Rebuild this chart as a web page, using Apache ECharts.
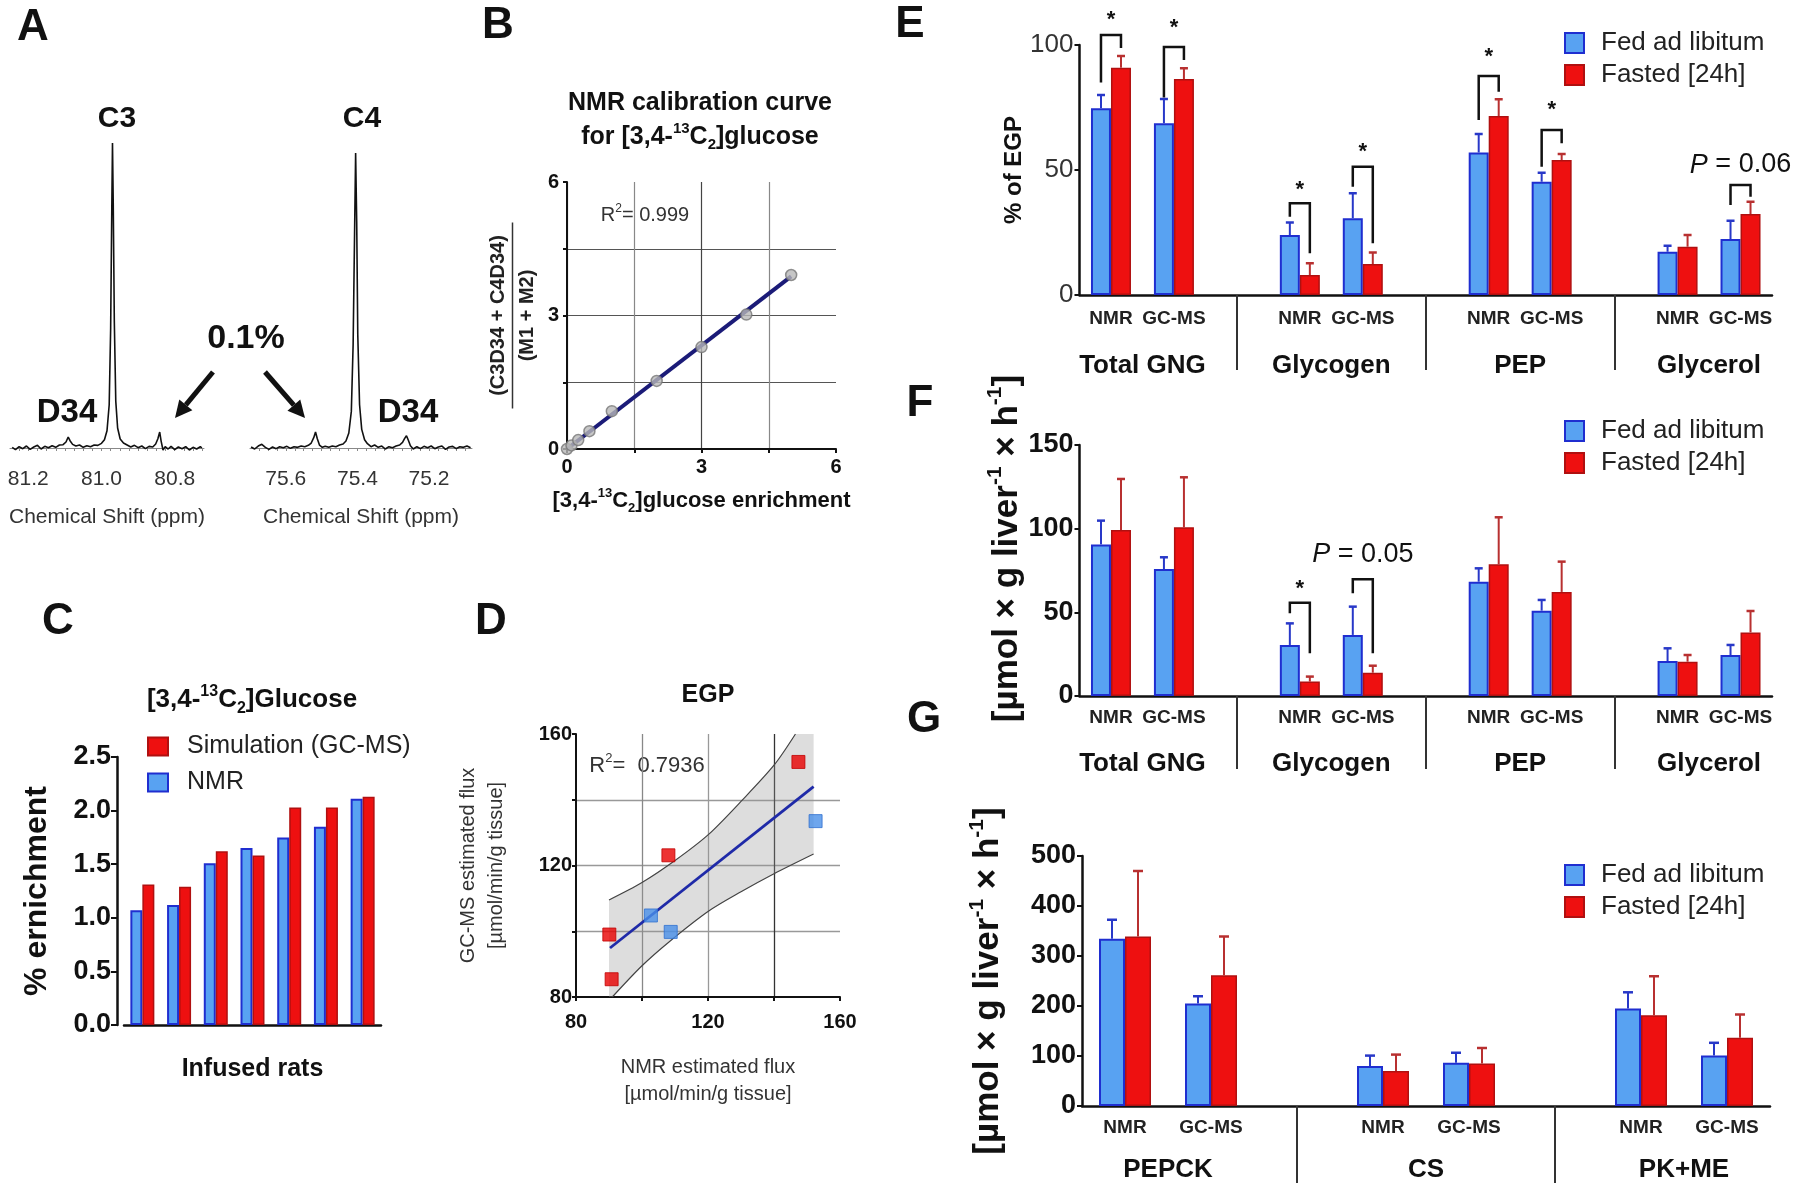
<!DOCTYPE html>
<html>
<head>
<meta charset="utf-8">
<title>NMR vs GC-MS glucose flux figure</title>
<script src="https://cdn.jsdelivr.net/npm/echarts@6/dist/echarts.min.js"></script>
<style>
  html, body { margin: 0; padding: 0; background: #fff; }
  #chart { width: 1800px; height: 1189px; }
</style>
</head>
<body>
<div id="chart"></div>
<script>
// ---- A: 13C NMR multiplets, [ppm, intensity]
const specC3 = [
  [81.244, 0.2], [81.235, -0.5], [81.225, 0.4], [81.215, -0.2], [81.205, 0.6], [81.195, -0.4],
  [81.185, 0.3], [81.175, 0.8], [81.165, -0.3], [81.155, 0.5], [81.145, 0.1], [81.135, 0.7],
  [81.125, 0.2], [81.115, 0.9], [81.105, 1.0], [81.097, 1.8], [81.091, 3.3], [81.086, 2.2],
  [81.079, 1.1], [81.07, 0.6], [81.06, 0.9], [81.05, 0.2], [81.04, 0.7], [81.03, 0.4],
  [81.02, 0.9], [81.01, 0.8], [81.0, 1.4], [80.992, 2.5], [80.985, 5.2], [80.979, 13],
  [80.975, 36], [80.972, 71], [80.970, 91.6], [80.968, 74], [80.965, 38], [80.961, 14],
  [80.956, 6], [80.949, 2.7], [80.94, 1.5], [80.93, 0.9], [80.92, 0.3], [80.91, 0.8],
  [80.90, 0.1], [80.89, 0.6], [80.88, -0.2], [80.87, 0.5], [80.86, 0.3], [80.852, 1.2],
  [80.846, 2.8], [80.841, 4.8], [80.837, 2.0], [80.832, -0.6], [80.826, 0.4], [80.818, -0.3],
  [80.81, 0.5], [80.80, -0.5], [80.79, 0.3], [80.78, -0.2], [80.77, 0.4], [80.76, -0.6],
  [80.75, 0.2], [80.74, -0.3], [80.73, 0.4], [80.726, 0]
];
const specC4 = [
  [75.697, 0.3], [75.687, -0.3], [75.677, 0.6], [75.667, 1.1], [75.657, 0.2], [75.647, -0.4],
  [75.637, 0.3], [75.627, -0.2], [75.617, 0.4], [75.607, 0.1], [75.597, 0.5], [75.587, -0.1],
  [75.577, 0.4], [75.567, 0.2], [75.557, 0.6], [75.547, 0.4], [75.537, 0.8], [75.529, 1.5],
  [75.522, 3.1], [75.517, 4.8], [75.512, 2.8], [75.506, 0.9], [75.498, 0.2], [75.49, 0.5],
  [75.48, 0.2], [75.47, 0.6], [75.46, 0.4], [75.45, 0.9], [75.44, 1.2], [75.432, 2.1],
  [75.424, 4.5], [75.417, 11], [75.412, 31], [75.408, 64], [75.405, 88.6], [75.402, 68],
  [75.399, 34], [75.394, 13], [75.388, 5.6], [75.38, 2.5], [75.372, 1.3], [75.362, 0.4],
  [75.352, 0.9], [75.342, 0.2], [75.332, 0.6], [75.322, -0.3], [75.312, 0.4], [75.302, 0.1],
  [75.292, 0.6], [75.282, 0.9], [75.274, 1.7], [75.268, 2.9], [75.263, 3.7], [75.258, 2.4],
  [75.252, 0.7], [75.244, -0.3], [75.234, 0.4], [75.224, -0.2], [75.214, 0.5], [75.204, 0.1],
  [75.194, 0.6], [75.184, -0.2], [75.174, 0.3], [75.164, 0.6], [75.154, -0.4], [75.144, 0.3],
  [75.134, 0.5], [75.124, -0.2], [75.114, 0.4], [75.104, 0.2], [75.094, 0.6], [75.084, 0.1]
];
const ppmLabelsC3 = [81.2, 81.0, 80.8];
const ppmLabelsC4 = [75.6, 75.4, 75.2];

// ---- B: calibration curve
const calibEnrich = [0, 0.1, 0.25, 0.5, 1, 2, 3, 4, 5];
const calibRatio = [0, 0.08, 0.2, 0.4, 0.85, 1.53, 2.29, 3.02, 3.91];
const calibFit = [[0, 0], [5, 3.88]];

// ---- C: enrichment per infused rat
const enrichNMR = [1.07, 1.12, 1.51, 1.65, 1.75, 1.85, 2.11];
const enrichSim = [1.31, 1.29, 1.62, 1.58, 2.03, 2.03, 2.13];

// ---- D: EGP, NMR vs GC-MS
const egpFed = [[102.7, 104.8], [108.7, 99.8], [152.6, 133.5]];
const egpFasted = [[90.1, 99.0], [90.8, 85.4], [108, 123.1], [147.4, 151.5]];
const egpFit = [[90.3, 94.9], [152, 144]];
const bandUpper = [[90, 109.5], [100, 114.8], [110, 121.5], [120, 129.3], [130, 139.5], [140, 150.5], [146.5, 160]];
const bandLower = [[91, 80], [100, 89.5], [108, 96.6], [120, 106], [130, 112], [140, 117.5], [152, 123.5]];

// ---- E/F/G
const fluxGroups = ['Total GNG', 'Glycogen', 'PEP', 'Glycerol'];
const enzymeGroups = ['PEPCK', 'CS', 'PK+ME'];
const methods = ['NMR', 'GC-MS'];

const pctFed = [74.7, 68.7, 24, 30.7, 57, 45.3, 17.3, 22.4];
const pctFedErr = [5.3, 9.7, 5, 10, 7.4, 3.6, 2.4, 7.3];
const pctFast = [90.9, 86.4, 8, 12.4, 71.6, 54, 19.3, 32.4];
const pctFastErr = [4.7, 4.3, 4.7, 4.6, 6.7, 2.4, 4.7, 4.9];

const fluxFed = [90.6, 75.9, 30.5, 36.5, 68.3, 51, 20.9, 24.5];
const fluxFedErr = [14.2, 7, 12.9, 16.9, 8, 6.4, 7.6, 6];
const fluxFast = [99.2, 100.8, 8.6, 13.9, 78.7, 62.2, 20.5, 38];
const fluxFastErr = [30.5, 29.9, 3, 4.2, 28.1, 18.1, 4, 12.8];

const enzFed = [334.5, 204.8, 79.8, 86.5, 195, 101];
const enzFedErr = [38, 14.7, 21, 20, 32.4, 25.4];
const enzFast = [339, 261.3, 69.8, 85, 181.5, 136.3];
const enzFastErr = [131, 77.7, 33, 31, 78, 46.7];

// significance brackets: k = measure index, legs/top in axis units
const bracketsE = [
  { k: 0, left: 85, top: 104, right: 98.8, text: '*', textY: 110 },
  { k: 1, left: 79, top: 99.2, right: 94, text: '*', textY: 107 },
  { k: 2, left: 31.3, top: 36.7, right: 16.7, text: '*', textY: 42 },
  { k: 3, left: 43.3, top: 51.3, right: 20.7, text: '*', textY: 57.3 },
  { k: 4, left: 70, top: 87.6, right: 81.3, text: '*', textY: 95.3 },
  { k: 5, left: 51.3, top: 66, right: 60.7, text: '*', textY: 74 },
  { k: 7, left: 36, top: 44, right: 39.3, text: 'P = 0.06', textY: 52 }
];
const bracketsF = [
  { k: 2, left: 49.4, top: 55.8, right: 25.5, text: '*', textY: 64 },
  { k: 3, left: 61.4, top: 69.7, right: 25.5, text: 'P = 0.05', textY: 84.3 }
];

const FONT = "'Liberation Sans', Arial, sans-serif";
const BLUE = '#58a2f2', BLUE_EDGE = '#1f2ed0', BLUE_ERR = '#2838c8';
const RED = '#ee1010', RED_EDGE = '#b01010', RED_ERR = '#b83030';

const grids = [], xAxes = [], yAxes = [], series = [];
const addGrid = (g) => grids.push(Object.assign({ outerBoundsMode: 'none', containLabel: false }, g)) - 1;
const addX = (a) => xAxes.push(a) - 1;
const addY = (a) => yAxes.push(a) - 1;

const supRich = (size, weight, color) => ({
  b: { fontSize: size, fontWeight: weight, fontFamily: FONT, color, lineHeight: size * 1.25 },
  sup: { fontSize: Math.round(size * 0.6), fontWeight: weight, fontFamily: FONT, color, lineHeight: Math.round(size * 0.6), verticalAlign: 'top' },
  sub: { fontSize: Math.round(size * 0.6), fontWeight: weight, fontFamily: FONT, color, lineHeight: Math.round(size * 0.6), verticalAlign: 'bottom' }
});

// ---------- A
function spectrum(data, left, width, min, max, labels) {
  const gi = addGrid({ left, top: 115, width, height: 343 });
  const minor = [];
  for (let v = Math.ceil(min * 40) / 40; v <= max; v += 0.025) minor.push(+v.toFixed(3));
  const xi = addX({
    type: 'value', gridIndex: gi, min, max, inverse: true, position: 'bottom',
    axisLine: { lineStyle: { color: '#888', width: 1 } },
    axisTick: { customValues: minor, length: 3, lineStyle: { color: '#888' } },
    axisLabel: { customValues: labels, formatter: (v) => v.toFixed(1), fontSize: 21, color: '#333', fontFamily: FONT, margin: 11 },
    splitLine: { show: false },
    name: 'Chemical Shift (ppm)', nameLocation: 'middle', nameGap: 49,
    nameTextStyle: { fontSize: 21, color: '#333', fontFamily: FONT }
  });
  const yi = addY({ type: 'value', gridIndex: gi, min: -3, max: 100, show: false });
  series.push({ type: 'line', xAxisIndex: xi, yAxisIndex: yi, data, symbol: 'none',
    lineStyle: { color: '#111', width: 1.6 }, silent: true });
}
spectrum(specC3, 10, 194, 80.72, 81.25, ppmLabelsC3);
spectrum(specC4, 250, 222, 75.08, 75.70, ppmLabelsC4);

// ---------- B
{
  const gi = addGrid({ left: 567, top: 182, width: 269, height: 267 });
  const tick = (v) => (v % 3 === 0 ? String(v) : '');
  const xi = addX({
    type: 'value', gridIndex: gi, min: 0, max: 6, interval: 1.5, position: 'bottom',
    axisLine: { lineStyle: { color: '#111', width: 2 } },
    axisTick: { length: 4, lineStyle: { color: '#111', width: 2 } },
    axisLabel: { formatter: tick, fontSize: 20, fontWeight: 'bold', color: '#111', fontFamily: FONT, margin: 8 },
    splitLine: { show: true, showMaxLine: false, lineStyle: { color: ['#666', '#888', '#444', '#888'], width: 1.2 } },
    name: '{b|[3,4-}{sup|13}{b|C}{sub|2}{b|]glucose enrichment}', nameLocation: 'middle', nameGap: 38,
    nameTextStyle: { rich: supRich(22, 'bold', '#111') }
  });
  const yi = addY({
    type: 'value', gridIndex: gi, min: 0, max: 6, interval: 1.5,
    axisLine: { lineStyle: { color: '#111', width: 2 } },
    axisTick: { length: 4, lineStyle: { color: '#111', width: 2 } },
    axisLabel: { formatter: tick, fontSize: 20, fontWeight: 'bold', color: '#111', fontFamily: FONT, margin: 8 },
    splitLine: { show: true, showMaxLine: false, lineStyle: { color: '#555', width: 1.2 } },
    name: '{n|(C3D34 + C4D34)}\n{bar| }\n{n|(M1 + M2)}', nameLocation: 'middle', nameRotate: 90, nameGap: 28,
    nameTextStyle: {
      align: 'center',
      rich: {
        n: { fontSize: 20, fontWeight: 'bold', fontFamily: FONT, color: '#222', lineHeight: 24, align: 'center' },
        bar: { width: 186, height: 1.5, lineHeight: 5, backgroundColor: '#333', fontSize: 2, align: 'center' }
      }
    }
  });
  series.push({ type: 'line', xAxisIndex: xi, yAxisIndex: yi, data: calibFit, symbol: 'none',
    lineStyle: { color: '#1b1b78', width: 4 }, silent: true, z: 3 });
  series.push({ type: 'scatter', xAxisIndex: xi, yAxisIndex: yi,
    data: calibEnrich.map((x, i) => [x, calibRatio[i]]), symbolSize: 11,
    itemStyle: { color: '#b8b8b8', borderColor: '#777', borderWidth: 1.5 }, z: 4 });
}

// ---------- C
{
  const gi = addGrid({ left: 124, top: 757, width: 257, height: 268 });
  const xi = addX({
    type: 'category', gridIndex: gi, data: enrichNMR.map((_, i) => 'Rat ' + (i + 1)), position: 'bottom',
    axisLine: { lineStyle: { color: '#111', width: 2.5 } },
    axisTick: { alignWithLabel: true, length: 7, lineStyle: { color: '#111', width: 2 } },
    axisLabel: { show: false },
    name: 'Infused rats', nameLocation: 'middle', nameGap: 32,
    nameTextStyle: { fontSize: 25, fontWeight: 'bold', color: '#111', fontFamily: FONT }
  });
  const yi = addY({
    type: 'value', gridIndex: gi, min: 0, max: 2.5, interval: 0.5, offset: 7,
    axisLine: { show: true, lineStyle: { color: '#111', width: 2.5 } },
    axisTick: { show: true, length: 6, lineStyle: { color: '#111', width: 2 } },
    axisLabel: { formatter: (v) => v.toFixed(1), fontSize: 27, fontWeight: 'bold', color: '#111', fontFamily: FONT, margin: 6 },
    splitLine: { show: false },
    name: '% ernichment', nameLocation: 'middle', nameRotate: 90, nameGap: 64,
    nameTextStyle: { fontSize: 32, fontWeight: 'bold', color: '#111', fontFamily: FONT }
  });
  series.push({ type: 'bar', name: 'NMR', xAxisIndex: xi, yAxisIndex: yi, data: enrichNMR, barWidth: 12, barGap: '0%',
    itemStyle: { color: BLUE, borderColor: BLUE_EDGE, borderWidth: 2 } });
  series.push({ type: 'bar', name: 'Simulation (GC-MS)', xAxisIndex: xi, yAxisIndex: yi, data: enrichSim, barWidth: 12,
    itemStyle: { color: RED, borderColor: RED_EDGE, borderWidth: 1.5 } });
}

// ---------- D
{
  const gi = addGrid({ left: 576, top: 734, width: 264, height: 263 });
  const common = {
    type: 'value', gridIndex: gi, min: 80, max: 160, interval: 20,
    axisLine: { lineStyle: { color: '#111', width: 2 } },
    axisTick: { length: 4, lineStyle: { color: '#111', width: 2 } },
    splitLine: { show: true, showMaxLine: false, showMinLine: false }
  };
  const lab = (v) => (v % 40 === 0 ? String(v) : '');
  const xi = addX({
    ...common, position: 'bottom',
    axisLabel: { formatter: lab, fontSize: 20, fontWeight: 'bold', color: '#111', fontFamily: FONT, margin: 15 },
    splitLine: { ...common.splitLine, lineStyle: { color: ['#888', '#999', '#333', '#999'], width: 1.3 } },
    name: 'NMR estimated flux\n[µmol/min/g tissue]', nameLocation: 'middle', nameGap: 57,
    nameTextStyle: { fontSize: 20, color: '#333', fontFamily: FONT, lineHeight: 27 }
  });
  const yi = addY({
    ...common,
    axisLabel: { formatter: lab, fontSize: 20, fontWeight: 'bold', color: '#111', fontFamily: FONT, margin: 4 },
    splitLine: { ...common.splitLine, lineStyle: { color: '#999', width: 1.3 } },
    name: 'GC-MS estimated flux\n[µmol/min/g tissue]', nameLocation: 'middle', nameRotate: 90, nameGap: 66,
    nameTextStyle: { fontSize: 20, color: '#333', fontFamily: FONT, lineHeight: 28 }
  });
  series.push({
    type: 'custom', xAxisIndex: xi, yAxisIndex: yi, data: [[120, 120]], silent: true, z: 1,
    renderItem: (params, api) => {
      const top = bandUpper.map((p) => api.coord(p));
      const rightTop = api.coord([bandLower[bandLower.length - 1][0], 160]);
      const bottom = bandLower.slice().reverse().map((p) => api.coord(p));
      const leftBottom = api.coord([bandUpper[0][0], 80]);
      return { type: 'polygon', shape: { points: [...top, rightTop, ...bottom, leftBottom] },
        style: { fill: 'rgba(150,150,150,0.32)' } };
    }
  });
  [bandUpper, bandLower].forEach((d) => series.push({ type: 'line', xAxisIndex: xi, yAxisIndex: yi, data: d,
    symbol: 'none', smooth: 0.3, lineStyle: { color: '#444', width: 1.2 }, silent: true, z: 2 }));
  series.push({ type: 'line', xAxisIndex: xi, yAxisIndex: yi, data: egpFit, symbol: 'none',
    lineStyle: { color: '#1f2aa8', width: 2.8 }, silent: true, z: 3 });
  series.push({ type: 'scatter', xAxisIndex: xi, yAxisIndex: yi, data: egpFasted, symbol: 'rect', symbolSize: 13,
    itemStyle: { color: '#e80000', borderColor: '#c00000', borderWidth: 1 }, z: 4 });
  series.push({ type: 'scatter', xAxisIndex: xi, yAxisIndex: yi, data: egpFed, symbol: 'rect', symbolSize: 13,
    itemStyle: { color: '#4a90e8', borderColor: '#2f6fd0', borderWidth: 1 }, z: 4 });
}

// ---------- E / F / G  (grouped bars with a blank slot between groups)
const slotOf = (k) => Math.floor(k / 2) * 3 + (k % 2);
const slotLabels = (groups) => {
  const out = [];
  groups.forEach((g, i) => { out.push(...methods); if (i < groups.length - 1) out.push(''); });
  return out;
};
const groupAxisLabels = (groups) => {
  const arr = new Array(2 * (groups.length * 3 - 1) + 1).fill('');
  groups.forEach((g, i) => { arr[6 * i + 2] = g; });
  return arr;
};
const toSlots = (vals) => {
  const out = [];
  vals.forEach((v, k) => { if (k > 0 && k % 2 === 0) out.push('-'); out.push(v); });
  return out;
};

function errSeries(xi, yi, vals, errs, side, bw, color, cap) {
  return {
    type: 'custom', xAxisIndex: xi, yAxisIndex: yi, silent: true, z: 5,
    data: vals.map((v, k) => [slotOf(k), v, v + errs[k]]),
    renderItem: (params, api) => {
      const base = api.coord([api.value(0), api.value(1)]);
      const top = api.coord([api.value(0), api.value(2)]);
      const x = base[0] + side * bw / 2;
      return { type: 'group', children: [
        { type: 'line', shape: { x1: x, y1: base[1], x2: x, y2: top[1] }, style: { stroke: color, lineWidth: 2 } },
        { type: 'line', shape: { x1: x - cap, y1: top[1], x2: x + cap, y2: top[1] }, style: { stroke: color, lineWidth: 2.5 } }
      ] };
    }
  };
}

function bracketSeries(xi, yi, list, bw) {
  return {
    type: 'custom', xAxisIndex: xi, yAxisIndex: yi, silent: true, z: 6,
    data: list.map((b) => [slotOf(b.k), b.left, b.top, b.right, b.textY]),
    renderItem: (params, api) => {
      const b = list[params.dataIndex];
      const s = api.value(0);
      const pl = api.coord([s, api.value(1)]);
      const pt = api.coord([s, api.value(2)]);
      const pr = api.coord([s, api.value(3)]);
      const px = api.coord([s, api.value(4)]);
      const xl = pl[0] - bw / 2, xr = pl[0] + bw / 2;
      const isStar = b.text === '*';
      return { type: 'group', children: [
        { type: 'polyline', shape: { points: [[xl, pl[1]], [xl, pt[1]], [xr, pt[1]], [xr, pr[1]]] },
          style: { stroke: '#111', lineWidth: 2.5, fill: null } },
        { type: 'text', x: px[0], y: px[1], style: isStar
          ? { text: '*', fontSize: 22, fontWeight: 'bold', fontFamily: FONT, fill: '#111', align: 'center', verticalAlign: 'middle' }
          : { text: '{i|P}{t|' + b.text.slice(1) + '}', align: 'center', verticalAlign: 'middle',
              rich: { i: { fontSize: 27, fontStyle: 'italic', fontFamily: FONT, fill: '#111', color: '#111' },
                      t: { fontSize: 27, fontFamily: FONT, fill: '#111', color: '#111' } } } }
      ] };
    }
  };
}

function fluxPanel(o) {
  const gi = addGrid(o.grid);
  const xi = addX({
    type: 'category', gridIndex: gi, data: slotLabels(o.groups), position: 'bottom',
    axisLine: { lineStyle: { color: '#111', width: 2.5 } },
    axisTick: { alignWithLabel: true, length: 6, interval: (i) => i % 3 !== 2, lineStyle: { color: '#111', width: 2 } },
    axisLabel: { interval: 0, margin: o.catMargin, fontSize: 19, fontWeight: 'bold', color: '#222', fontFamily: FONT }
  });
  addX({
    type: 'category', gridIndex: gi, data: groupAxisLabels(o.groups), boundaryGap: false, position: 'bottom', offset: 0,
    axisLine: { show: false },
    axisTick: { show: true, interval: (i) => i % 6 === 5, length: o.sepLen, lineStyle: { color: '#333', width: 2 } },
    axisLabel: { interval: 0, margin: o.groupMargin, fontSize: 26, fontWeight: 'bold', color: '#111', fontFamily: FONT }
  });
  const yi = addY({
    type: 'value', gridIndex: gi, min: 0, max: o.max, interval: o.step,
    axisLine: { show: true, lineStyle: { color: '#111', width: 2.5 } },
    axisTick: { show: true, length: 5, lineStyle: { color: '#111', width: 2 } },
    axisLabel: { fontSize: o.tickSize, fontWeight: o.tickWeight, color: o.tickColor, fontFamily: FONT, margin: 6 },
    splitLine: { show: false },
    name: o.yName, nameLocation: 'middle', nameRotate: 90, nameGap: o.nameGap,
    nameTextStyle: o.nameStyle
  });
  series.push({ type: 'bar', name: 'Fed ad libitum', xAxisIndex: xi, yAxisIndex: yi, data: toSlots(o.fed),
    barWidth: o.bw, barGap: '0%', itemStyle: { color: BLUE, borderColor: BLUE_EDGE, borderWidth: 2 } });
  series.push({ type: 'bar', name: 'Fasted [24h]', xAxisIndex: xi, yAxisIndex: yi, data: toSlots(o.fast),
    barWidth: o.bw, itemStyle: { color: RED, borderColor: RED_EDGE, borderWidth: 1.5 } });
  series.push(errSeries(xi, yi, o.fed, o.fedErr, -1, o.bw, BLUE_ERR, o.cap));
  series.push(errSeries(xi, yi, o.fast, o.fastErr, 1, o.bw, RED_ERR, o.cap));
  if (o.brackets) series.push(bracketSeries(xi, yi, o.brackets, o.bw));
}

const unitName = '{b|[µmol × g liver}{sup|-1}{b| × h}{sup|-1}{b|]}';

fluxPanel({
  grid: { left: 1079.5, top: 45, width: 692.5, height: 250 }, groups: fluxGroups,
  fed: pctFed, fedErr: pctFedErr, fast: pctFast, fastErr: pctFastErr, brackets: bracketsE,
  max: 100, step: 50, bw: 20, cap: 4, catMargin: 14, groupMargin: 58, sepLen: 75,
  tickSize: 26, tickWeight: 'normal', tickColor: '#333',
  yName: '% of EGP', nameGap: 48, nameStyle: { fontSize: 24, fontWeight: 'bold', color: '#111', fontFamily: FONT }
});
fluxPanel({
  grid: { left: 1079.5, top: 445, width: 692.5, height: 251 }, groups: fluxGroups,
  fed: fluxFed, fedErr: fluxFedErr, fast: fluxFast, fastErr: fluxFastErr, brackets: bracketsF,
  max: 150, step: 50, bw: 20, cap: 4, catMargin: 12, groupMargin: 55, sepLen: 73,
  tickSize: 27, tickWeight: 'bold', tickColor: '#111',
  yName: unitName, nameGap: 49, nameStyle: { rich: supRich(35, 'bold', '#111'), padding: [0, 0, 0, 44] }
});
fluxPanel({
  grid: { left: 1082, top: 856, width: 688, height: 250 }, groups: enzymeGroups,
  fed: enzFed, fedErr: enzFedErr, fast: enzFast, fastErr: enzFastErr,
  max: 500, step: 100, bw: 26, cap: 5, catMargin: 12, groupMargin: 51, sepLen: 77,
  tickSize: 27, tickWeight: 'bold', tickColor: '#111',
  yName: unitName, nameGap: 72, nameStyle: { rich: supRich(35, 'bold', '#111') }
});

// ---------- legends
const fluxLegend = (top) => ({
  data: ['Fed ad libitum', 'Fasted [24h]'], orient: 'vertical', left: 1559, top,
  itemWidth: 19, itemHeight: 20, itemGap: 6, icon: 'rect', selectedMode: false,
  textStyle: { fontSize: 26, color: '#222', fontFamily: FONT, padding: [0, 0, 0, 12] }
});
const legends = [
  { data: ['Simulation (GC-MS)', 'NMR'], orient: 'vertical', left: 142, top: 729,
    itemWidth: 20, itemHeight: 18, itemGap: 11, icon: 'rect', selectedMode: false,
    textStyle: { fontSize: 25, color: '#222', fontFamily: FONT, padding: [0, 0, 0, 14] } },
  fluxLegend(25), fluxLegend(413), fluxLegend(857)
];

// ---------- free text: panel letters, titles, annotations
const txt = (text, x, y, size, weight, fill, rich) => ({
  type: 'text', x, y, silent: true,
  style: Object.assign({ text, fontSize: size, fontWeight: weight, fontFamily: FONT, fill: fill || '#111',
    align: 'center', verticalAlign: 'middle' }, rich ? { rich } : {})
});
const arrow = (x1, y1, x2, y2) => {
  const len = Math.hypot(x2 - x1, y2 - y1), ux = (x2 - x1) / len, uy = (y2 - y1) / len;
  const bx = x2 - ux * 17, by = y2 - uy * 17, px = -uy * 8.5, py = ux * 8.5;
  return [
    { type: 'line', silent: true, shape: { x1, y1, x2: bx, y2: by }, style: { stroke: '#111', lineWidth: 5 } },
    { type: 'polygon', silent: true, shape: { points: [[x2, y2], [bx + px, by + py], [bx - px, by - py]] }, style: { fill: '#111' } }
  ];
};

const graphic = [
  txt('A', 33, 28, 44, 'bold'), txt('B', 498, 26, 44, 'bold'), txt('C', 58, 622, 44, 'bold'),
  txt('D', 491, 622, 44, 'bold'), txt('E', 910, 25, 44, 'bold'), txt('F', 920, 404, 44, 'bold'),
  txt('G', 924, 720, 44, 'bold'),
  txt('C3', 117, 119, 30, 'bold'), txt('C4', 362, 119, 30, 'bold'),
  txt('D34', 67, 413, 33, 'bold'), txt('D34', 408, 413, 33, 'bold'),
  txt('0.1%', 246, 339, 34, 'bold'),
  ...arrow(213, 372, 175, 418), ...arrow(265, 372, 305, 418),
  txt('NMR calibration curve', 700, 103, 25, 'bold'),
  txt('{b|for [3,4-}{sup|13}{b|C}{sub|2}{b|]glucose}', 700, 137, 25, 'bold', '#111', supRich(25, 'bold', '#111')),
  txt('{b|R}{sup|2}{b|= 0.999}', 645, 215, 20, 'normal', '#333', supRich(20, 'normal', '#333')),
  txt('{b|[3,4-}{sup|13}{b|C}{sub|2}{b|]Glucose}', 252, 700, 26, 'bold', '#111', supRich(26, 'bold', '#111')),
  txt('EGP', 708, 695, 25, 'bold'),
  txt('{b|R}{sup|2}{b|=  0.7936}', 647, 766, 22, 'normal', '#333', supRich(22, 'normal', '#333'))
];

const chart = echarts.init(document.getElementById('chart'), null, { renderer: 'canvas' });
chart.setOption({
  backgroundColor: '#fff',
  animation: false,
  textStyle: { fontFamily: FONT },
  grid: grids,
  xAxis: xAxes,
  yAxis: yAxes,
  legend: legends,
  graphic,
  series
});
</script>
</body>
</html>
